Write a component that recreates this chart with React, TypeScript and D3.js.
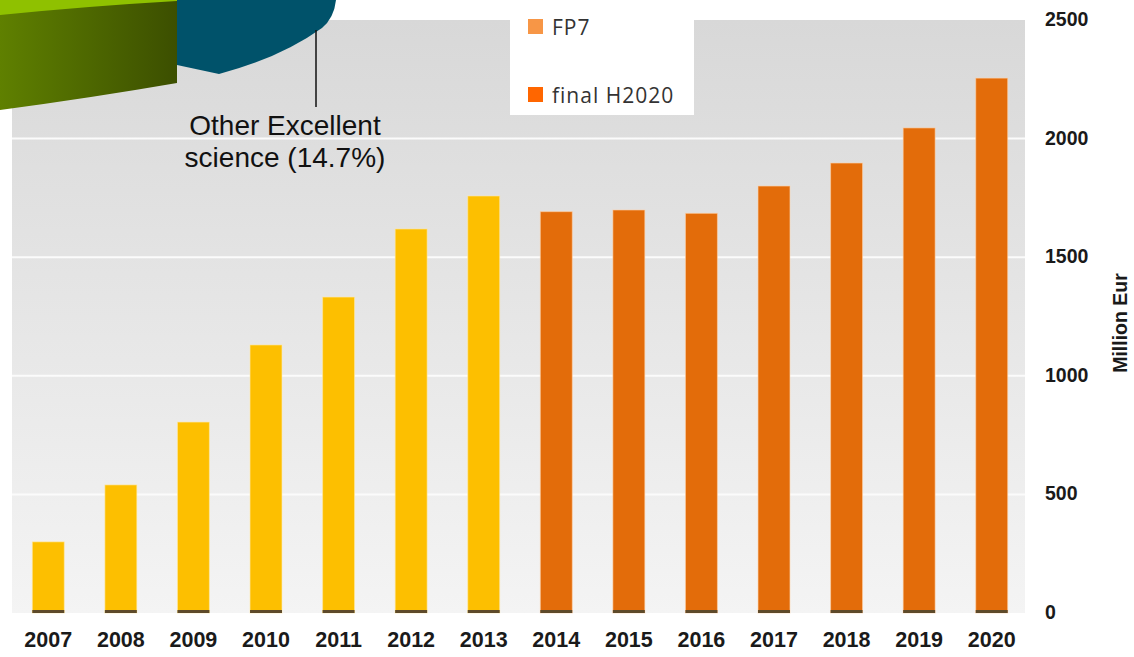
import React, { useRef, useEffect } from 'react';
import * as d3 from 'd3';

// values (million EUR)
const years = ['2007', '2008', '2009', '2010', '2011', '2012', '2013', '2014', '2015', '2016', '2017', '2018', '2019', '2020'];
const fp7 = [300, 540, 805, 1130, 1332, 1619, 1758];
const h2020 = [1692, 1699, 1685, 1800, 1897, 2045, 2255];
const yTicks = [0, 500, 1000, 1500, 2000, 2500];
const legendItems = ['FP7', 'final H2020'];

const W = 1134;
const H = 657;

const App = () => {
  const ref = useRef(null);

  useEffect(() => {
    const svg = d3.select(ref.current);
    svg.selectAll('*').remove();

    const left = 12, right = 1025, top = 20, bottom = 613;

    const x = d3.scaleBand().domain(years).range([left, 1028]).paddingInner(0.56).paddingOuter(0.28);
    const y = d3.scaleLinear().domain([0, 2500]).range([bottom, top]);

    const defs = svg.append('defs');
    const bg = defs.append('linearGradient').attr('id', 'bg').attr('x1', 0).attr('y1', 0).attr('x2', 0).attr('y2', 1);
    bg.append('stop').attr('offset', '0%').attr('stop-color', '#d8d8d8');
    bg.append('stop').attr('offset', '100%').attr('stop-color', '#f4f4f4');
    const side = defs.append('linearGradient').attr('id', 'side').attr('x1', 0).attr('y1', 0).attr('x2', 1).attr('y2', 0);
    side.append('stop').attr('offset', '0%').attr('stop-color', '#5f8000');
    side.append('stop').attr('offset', '100%').attr('stop-color', '#3c4f00');

    svg.append('rect').attr('width', W).attr('height', H).attr('fill', '#fff');

    // plot background + grid
    svg.append('rect')
      .attr('x', left).attr('y', top)
      .attr('width', right - left).attr('height', bottom - top)
      .attr('fill', 'url(#bg)');

    svg.append('g')
      .selectAll('line')
      .data(yTicks.filter(d => d > 0 && d < 2500))
      .join('line')
      .attr('x1', left).attr('x2', right)
      .attr('y1', d => y(d)).attr('y2', d => y(d))
      .attr('stroke', '#fbfbfb').attr('stroke-width', 2);

    const all = years.map((yr, i) => ({
      year: yr,
      value: i < fp7.length ? fp7[i] : h2020[i - fp7.length],
      fp: i < fp7.length,
    }));

    const bars = svg.append('g');
    bars.selectAll('rect.bar')
      .data(all)
      .join('rect')
      .attr('class', 'bar')
      .attr('x', d => x(d.year))
      .attr('y', d => y(d.value))
      .attr('width', x.bandwidth())
      .attr('height', d => y(0) - y(d.value))
      .attr('fill', d => (d.fp ? '#fdbf00' : '#e36c0a'))
      .attr('stroke', d => (d.fp ? '#ffe9a8' : '#ffd2a8'))
      .attr('stroke-opacity', 0.6)
      .attr('stroke-width', 1);

    bars.selectAll('rect.base')
      .data(all)
      .join('rect')
      .attr('class', 'base')
      .attr('x', d => x(d.year))
      .attr('y', y(0) - 3)
      .attr('width', x.bandwidth())
      .attr('height', 3)
      .attr('fill', '#5e4a2a');

    // x labels
    svg.append('g')
      .selectAll('text')
      .data(years)
      .join('text')
      .attr('x', d => x(d) + x.bandwidth() / 2)
      .attr('y', 640)
      .attr('text-anchor', 'middle')
      .attr('dominant-baseline', 'central')
      .style('font-family', '"Liberation Sans", Arial, sans-serif')
      .style('font-weight', 'bold')
      .style('font-size', '21.5px')
      .attr('fill', '#1a1a1a')
      .text(d => d);

    // y labels on the right
    svg.append('g')
      .selectAll('text')
      .data(yTicks)
      .join('text')
      .attr('x', 1045)
      .attr('y', d => y(d) - 1)
      .attr('dominant-baseline', 'central')
      .style('font-family', '"Liberation Sans", Arial, sans-serif')
      .style('font-weight', 'bold')
      .style('font-size', '19.5px')
      .attr('fill', '#1a1a1a')
      .text(d => d);

    svg.append('text')
      .attr('transform', 'translate(1120,323) rotate(-90)')
      .attr('text-anchor', 'middle')
      .attr('dominant-baseline', 'central')
      .style('font-family', '"Liberation Sans", Arial, sans-serif')
      .style('font-weight', 'bold')
      .style('font-size', '19.5px')
      .attr('fill', '#1a1a1a')
      .text('Million Eur');

    // legend
    const lg = svg.append('g');
    lg.append('rect').attr('x', 510).attr('y', 0).attr('width', 184).attr('height', 115).attr('fill', '#fff');
    const lc = ['#f79646', '#ff6600'];
    legendItems.forEach((t, i) => {
      const cy = 27 + i * 68;
      lg.append('rect').attr('x', 528).attr('y', cy - 8).attr('width', 15).attr('height', 15).attr('fill', lc[i]);
      lg.append('text')
        .attr('x', 552).attr('y', cy)
        .attr('dominant-baseline', 'central')
        .style('font-family', '"Open Sans", sans-serif')
        .style('font-size', '21px')
        .style('letter-spacing', '1px')
        .attr('fill', '#333')
        .text(t);
    });

    // fragment of the pie chart in the corner
    const pie = svg.append('g');
    pie.append('path')
      .attr('d', 'M0,0 L177,0 L177,83 Q90,98 0,110 Z')
      .attr('fill', 'url(#side)');
    pie.append('path')
      .attr('d', 'M0,0 L177,0 L177,1 Q90,6 0,15 Z')
      .attr('fill', '#8fc100');
    pie.append('path')
      .attr('d', 'M177,0 L336,0 Q334,18 322,28 Q280,58 219,74 L177,65 Z')
      .attr('fill', '#00526a');

    pie.append('line')
      .attr('x1', 316).attr('x2', 316).attr('y1', 30).attr('y2', 107)
      .attr('stroke', '#111').attr('stroke-width', 1.5);

    const lbl = pie.append('text')
      .attr('text-anchor', 'middle')
      .style('font-family', '"Liberation Sans", Arial, sans-serif')
      .style('font-size', '28px')
      .attr('fill', '#111');
    lbl.append('tspan').attr('x', 285).attr('y', 135).text('Other Excellent');
    lbl.append('tspan').attr('x', 285).attr('y', 167).text('science (14.7%)');

    return () => {
      svg.selectAll('*').remove();
    };
  }, []);

  return (
    <svg
      ref={ref}
      width={W}
      height={H}
      style={{ position: 'absolute', left: 0, top: 0, display: 'block' }}
    />
  );
};

export default App;
